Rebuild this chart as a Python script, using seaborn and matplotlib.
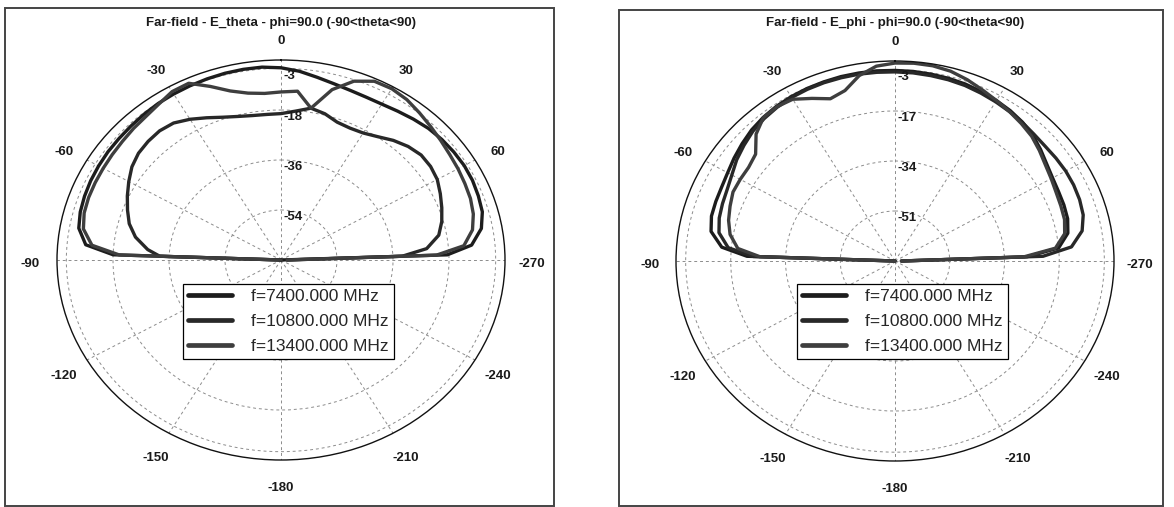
import numpy as np
import pandas as pd
import matplotlib
matplotlib.use('Agg')
import matplotlib.pyplot as plt
import matplotlib.transforms as mtransforms
from matplotlib.patches import Rectangle
from matplotlib.lines import Line2D
import seaborn as sns

# ---------------------------------------------------------------
# data, dB vs theta (deg)
# ---------------------------------------------------------------
THETA_DEG = [-90, -88, -85, -80, -75, -70, -65, -60, -55, -50, -45, -40, -35, -30,
             -25, -20, -15, -10, -5, 0, 5, 10, 15, 20, 25, 30, 35, 40, 45, 50,
             55, 60, 65, 70, 75, 80, 85, 88, 90]
FREQS = ['f=7400.000 MHz', 'f=10800.000 MHz', 'f=13400.000 MHz']

# E_theta, scale -72 .. 0
eth_7400 = [-72, -18, -9, -6, -5.2, -4.8, -4.5, -4.3, -4.1, -4, -3.8, -3.5, -3.2, -3,
            -2.8, -2.6, -2.4, -2.3, -2.3, -2.8, -3.8, -5.2, -6.3, -7, -7.3, -7.2, -6.6, -5.8, -5, -4.5,
            -4.2, -4, -4.1, -4.5, -5, -6.6, -10.5, -18.5, -72]
eth_10800 = [-72, -33, -29, -24.5, -21.5, -19.5, -17.5, -15.5, -13.5, -12.2, -11.6, -11.3, -11.8, -13.5,
             -15.5, -17.3, -18.5, -19.2, -19.4, -19.3, -18.2, -16.5, -17.5, -19.2, -19.6, -19.2, -17.8, -15.8, -14.2, -13.2,
             -13.3, -14, -15.5, -17, -18.5, -20.5, -25, -33, -70]
eth_13400 = [-72, -20, -11, -7.5, -6.5, -6.2, -6.1, -6, -5.8, -5.5, -5, -4.5, -3.5, -2,
             -1.8, -5.5, -9, -11, -11.8, -11.5, -11, -16.5, -8.5, -3.5, -1, -0.8, -1.5, -2.8, -4, -5,
             -5.8, -6.3, -6.8, -7.2, -8, -9.5, -13, -22, -70]

# E_phi, scale -68 .. 0
eph_7400 = [-68, -22, -14, -10, -9, -8.8, -8.6, -8, -7, -6, -5, -4.3, -3.8, -3.5,
            -3.3, -3.2, -3.1, -3.1, -3.1, -3.2, -3.3, -3.5, -3.7, -4, -4.5, -5, -5.6, -6.4, -7.5, -9,
            -10.5, -11.5, -12, -12.2, -12.5, -13.5, -17, -27, -66]
eph_10800 = [-68, -24, -16, -12.5, -11.5, -11, -10.5, -9.5, -8, -6.8, -5.6, -4.8, -4.2, -3.8,
             -3.6, -3.5, -3.5, -3.5, -3.6, -3.7, -3.8, -4, -4.2, -4.5, -5, -5.5, -6, -6.5, -7, -7.2,
             -7, -6.8, -6.8, -7, -7.5, -9, -13, -22, -66]
eph_13400 = [-68, -26, -19, -16, -14.5, -13.5, -12.5, -12.5, -12.5, -11.5, -7, -4.4, -4, -4.5,
             -7, -9.3, -8, -4, -1.5, -0.7, -0.5, -0.6, -1.2, -2.4, -3.8, -5, -6, -7, -8, -9.5,
             -11, -12, -12.8, -13.2, -13.5, -14.5, -18, -28, -66]

ANGLE_TICKS = [0, 30, 60, 90, 120, 150, 180, 210, 240, 270, 300, 330]
ANGLE_LABELS = ['0', '30', '60', '-270', '-240', '-210', '-180', '-150', '-120', '-90', '-60', '-30']

ETH_RTICKS = [-54, -36, -18, -3]
EPH_RTICKS = [-51, -34, -17, -3]

COLORS = {FREQS[0]: '#1c1c1c', FREQS[1]: '#282828', FREQS[2]: '#3e3e3e'}


def make_df(series):
    rows = []
    for name, vals in zip(FREQS, series):
        for t, v in zip(THETA_DEG, vals):
            rows.append({'theta': np.deg2rad(t), 'db': v, 'freq': name})
    return pd.DataFrame(rows)


sns.set_theme(style='white')
plt.rcParams['font.family'] = ['Liberation Sans', 'DejaVu Sans']

W, H = 1174, 507
fig = plt.figure(figsize=(W / 100, H / 100), dpi=100)
fig.patch.set_facecolor('white')


def fig_rect(x0, y0, w, h):
    return [x0 / W, 1 - (y0 + h) / H, w / W, h / H]


def panel(box, cx, cy, rx, ry, df, rmin, rticks, title):
    # outer frame
    bx0, by0, bx1, by1 = box
    fig.add_artist(Rectangle((bx0 / W, 1 - by1 / H), (bx1 - bx0) / W, (by1 - by0) / H,
                             transform=fig.transFigure, fill=False,
                             edgecolor='#444444', lw=1.4))
    fig.text(cx / W, 1 - 23 / H, title, ha='center', va='center',
             fontsize=9.5, fontweight='bold', color='#1a1a1a')

    ax = fig.add_axes(fig_rect(cx - rx, cy - ry, 2 * rx, 2 * ry), projection='polar')
    ax.set_theta_zero_location('N')
    ax.set_theta_direction(-1)
    sns.lineplot(data=df, x='theta', y='db', hue='freq', hue_order=FREQS,
                 palette=COLORS, estimator=None, sort=False, legend=False,
                 linewidth=2.4, ax=ax)
    ax.set_ylim(rmin, 0)
    ax.set_aspect('auto')
    ax.set_xlabel('')
    ax.set_ylabel('')
    ax.set_xticks(np.deg2rad(ANGLE_TICKS))
    ax.set_xticklabels([])
    ax.set_yticks(rticks)
    ax.set_yticklabels([])
    ax.grid(True, ls=(0, (3, 3)), color='#8c8c8c', lw=0.7)
    ax.spines['polar'].set_color('#111111')
    ax.spines['polar'].set_linewidth(1.0)

    lab = ax.transData + mtransforms.ScaledTranslation(0, -3 / 72, fig.dpi_scale_trans)
    for ang, lbl in zip(ANGLE_TICKS, ANGLE_LABELS):
        ax.text(np.deg2rad(ang), 8.5 * (-rmin) / 72, lbl, transform=lab,
                ha='center', va='center', fontsize=9.5, fontweight='bold',
                color='#1a1a1a', clip_on=False)

    off = ax.transData + mtransforms.ScaledTranslation(2 / 72, -1 / 72, fig.dpi_scale_trans)
    for t in rticks:
        ax.text(0, t, str(t), transform=off, ha='left', va='top',
                fontsize=9.5, fontweight='bold', color='#1a1a1a')

    handles = [Line2D([], [], color=COLORS[f], lw=3.4) for f in FREQS]
    leg = fig.legend(handles, FREQS, loc='upper left',
                     bbox_to_anchor=((cx - 98) / W, 1 - 284 / H),
                     bbox_transform=fig.transFigure, frameon=True, fancybox=False,
                     edgecolor='black', framealpha=1, fontsize=12.5, handlelength=2.5,
                     handletextpad=1.1, labelspacing=0.55, borderpad=0.3,
                     borderaxespad=0)
    leg.get_frame().set_linewidth(0.9)
    return ax


panel((5, 8, 554, 506), 281, 260, 224, 200, make_df([eth_7400, eth_10800, eth_13400]),
      -72, ETH_RTICKS, 'Far-field - E_theta - phi=90.0 (-90<theta<90)')
panel((619, 10, 1163, 506), 895, 261, 219, 200, make_df([eph_7400, eph_10800, eph_13400]),
      -68, EPH_RTICKS, 'Far-field - E_phi - phi=90.0 (-90<theta<90)')

fig.savefig('out.png', dpi=100, facecolor='white')
